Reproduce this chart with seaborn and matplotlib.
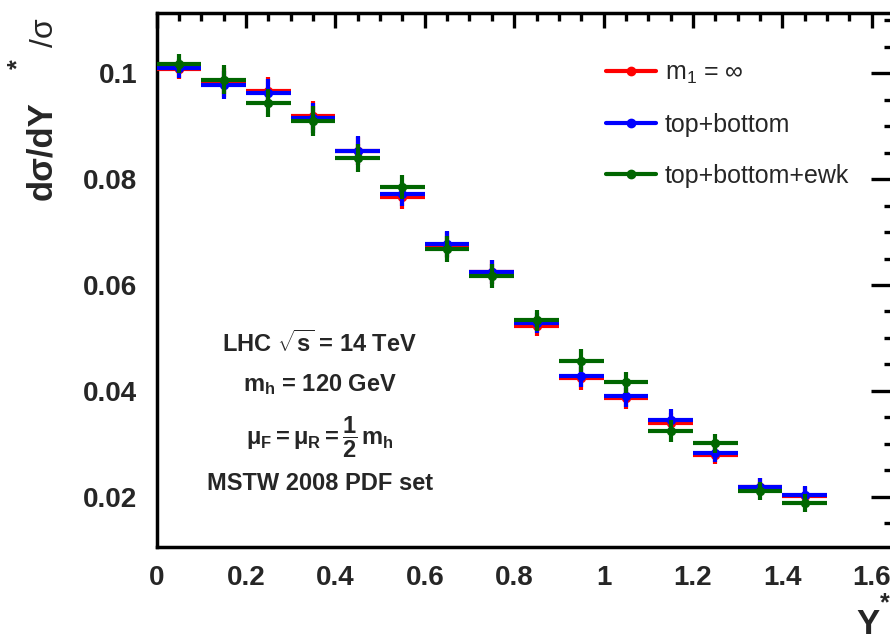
import matplotlib
matplotlib.use("Agg")
import matplotlib.pyplot as plt
from matplotlib.lines import Line2D
import seaborn as sns
import pandas as pd
import numpy as np

# ---------------- data ----------------
bin_centers = [0.05, 0.15, 0.25, 0.35, 0.45, 0.55, 0.65, 0.75, 0.85, 0.95,
               1.05, 1.15, 1.25, 1.35, 1.45]
bin_halfwidth = 0.05
m_inf = [0.1008, 0.0983, 0.0967, 0.0920, 0.0853, 0.0767, 0.0676, 0.0624,
         0.0523, 0.0424, 0.0386, 0.0339, 0.0279, 0.0218, 0.0202]
top_bottom = [0.1010, 0.0978, 0.0963, 0.0915, 0.0854, 0.0772, 0.0677, 0.0625,
              0.0528, 0.0429, 0.0390, 0.0345, 0.0283, 0.0219, 0.0203]
top_bottom_ewk = [0.1018, 0.0988, 0.0944, 0.0910, 0.0840, 0.0785, 0.0668, 0.0617,
                  0.0533, 0.0457, 0.0416, 0.0324, 0.0301, 0.0211, 0.0188]
errors = [0.0018, 0.0027, 0.0027, 0.0028, 0.0027, 0.0023, 0.0025, 0.0023,
          0.0019, 0.0022, 0.0020, 0.0020, 0.0018, 0.0017, 0.0017]
series_names = [r"$m_1$ = $\infty$", "top+bottom", "top+bottom+ewk"]
series_colors = ["#ff0000", "#0000ff", "#006600"]
xtick_values = [0, 0.2, 0.4, 0.6, 0.8, 1.0, 1.2, 1.4, 1.6]
xtick_labels = ["0", "0.2", "0.4", "0.6", "0.8", "1", "1.2", "1.4", "1.6"]
ytick_values = [0.02, 0.04, 0.06, 0.08, 0.1]
ytick_labels = ["0.02", "0.04", "0.06", "0.08", "0.1"]
info_lines = ["LHC $\\sqrt{s}$ = 14 TeV",
              "$m_h$ = 120 GeV",
              "$\\mu_F = \\mu_R = \\dfrac{1}{2}\\,m_h$",
              "MSTW 2008 PDF set"]

# ---------------- style ----------------
sns.set_style("white")
plt.rcParams["font.family"] = ["Liberation Sans", "DejaVu Sans"]
plt.rcParams["mathtext.default"] = "regular"
plt.rcParams["mathtext.fontset"] = "custom"
plt.rcParams["mathtext.rm"] = "Liberation Sans"
plt.rcParams["mathtext.it"] = "Liberation Sans:italic"
plt.rcParams["mathtext.bf"] = "Liberation Sans:bold"

W, H = 890, 643
fig = plt.figure(figsize=(W / 100, H / 100), dpi=100)
left, right, bottom, top = 156.7, 894.0, 546.7, 13.0
ax = fig.add_axes([left / W, 1 - bottom / H, (right - left) / W, (bottom - top) / H])

df = pd.DataFrame({
    "x": bin_centers * 3,
    "y": m_inf + top_bottom + top_bottom_ewk,
    "err": errors * 3,
    "series": sum([[n] * len(bin_centers) for n in series_names], []),
})

for i, (name, col) in enumerate(zip(series_names, series_colors)):
    sub = df[df["series"] == name]
    ax.errorbar(sub["x"], sub["y"], xerr=bin_halfwidth, yerr=sub["err"],
                fmt="none", ecolor=col, elinewidth=3.0, capsize=0,
                zorder=3 + 2 * i)
    sns.scatterplot(data=sub, x="x", y="y", color=col, s=45, marker="o",
                    edgecolor=col, linewidth=0, ax=ax, zorder=4 + 2 * i,
                    legend=False)

ax.set_xlim(0, 1.65)
ax.set_ylim(0.01055, 0.1114)
ax.set_xlabel("")
ax.set_ylabel("")

ax.set_xticks(xtick_values)
ax.set_xticklabels(xtick_labels)
ax.set_yticks(ytick_values)
ax.set_yticklabels(ytick_labels)
ax.set_xticks(np.arange(0, 1.651, 0.05), minor=True)
ax.set_yticks(np.arange(0.015, 0.1114, 0.005), minor=True)

for s in ax.spines.values():
    s.set_linewidth(2.5)
    s.set_color("black")

ax.tick_params(axis="both", which="both", direction="in", top=True, right=True,
               width=2.4, color="black")
ax.tick_params(axis="x", which="major", length=11, pad=13)
ax.tick_params(axis="x", which="minor", length=5.8)
ax.tick_params(axis="y", which="major", length=16.5, pad=14)
ax.tick_params(axis="y", which="minor", length=7)

for lab in ax.get_xticklabels() + ax.get_yticklabels():
    lab.set_fontweight("bold")
    lab.set_fontsize(20)

# legend
handles = [Line2D([0], [0], color=c, lw=3, marker="o", markersize=6)
           for c in series_colors]
leg = ax.legend(handles, series_names, loc="upper left",
                bbox_to_anchor=(606 / W, 1 - 61 / H), bbox_transform=fig.transFigure,
                frameon=False, borderpad=0, borderaxespad=0, handlelength=2.0,
                handletextpad=0.35, labelspacing=1.08, fontsize=18)

# info text
baselines = [351.7, 390.7, 445.0, 490.0]
for txt, yb in zip(info_lines, baselines):
    fig.text(320 / W, 1 - yb / H, txt, ha="center", va="baseline",
             fontsize=17, fontweight="bold")

# axis titles
fig.text(42 / W, 1 - 200 / H, "dσ/dY", rotation=90, ha="center", va="bottom",
         fontsize=25, fontweight="bold")
fig.text(18 / W, 1 - 64 / H, "*", rotation=90, ha="center", va="center",
         fontsize=18, fontweight="bold")
fig.text(45 / W, 1 - 18 / H, "/σ", rotation=90, ha="center", va="top",
         fontsize=23)

fig.text(868 / W, 1 - 634 / H, "Y", ha="center", va="baseline",
         fontsize=25, fontweight="bold")
fig.text(885 / W, 1 - 603 / H, "*", ha="center", va="center",
         fontsize=18, fontweight="bold")

fig.savefig("out.png", dpi=100)
